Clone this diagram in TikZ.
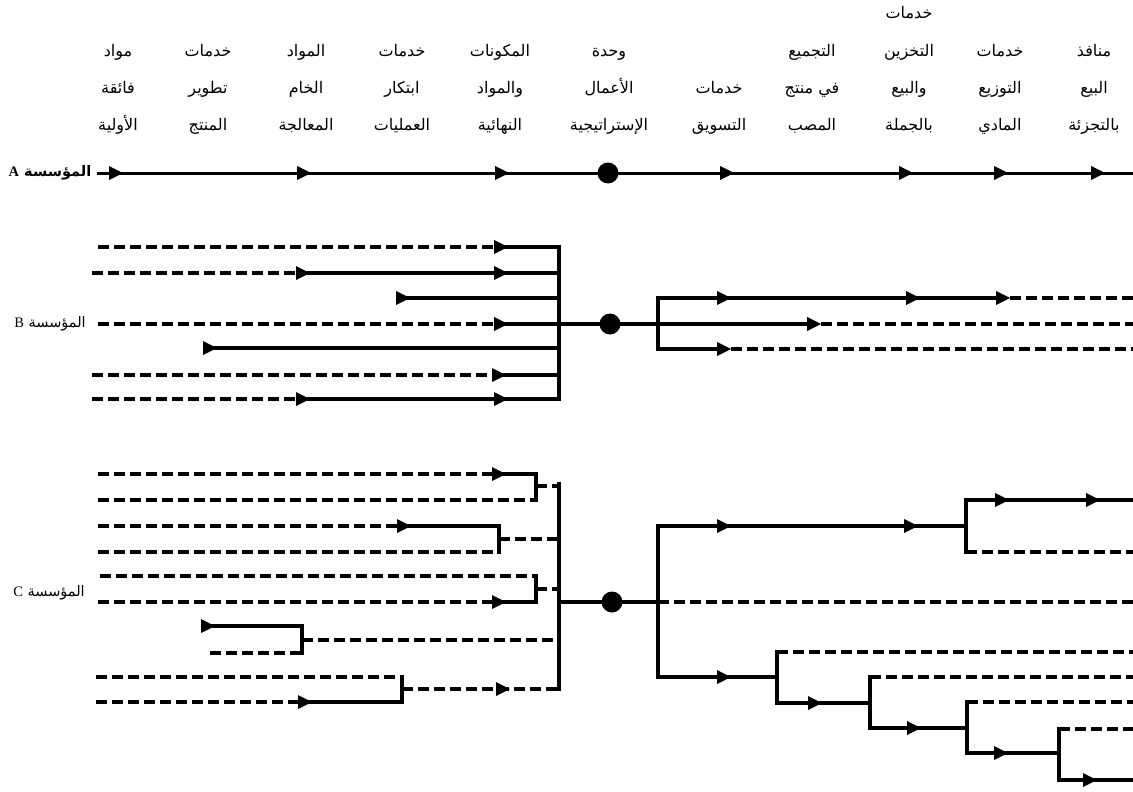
\documentclass[tikz,border=0pt]{standalone}
\usepackage{fontspec}
\TeXXeTstate=1
\newfontfamily\arabicfont[Script=Arabic]{DejaVu Sans}
\newfontfamily\latinserif{Liberation Serif}
\newcommand{\ar}[1]{{\arabicfont\beginR #1\endR}}
\begin{document}
\begin{tikzpicture}[x=1pt,y=-1pt,
  sol/.style={line width=3.8pt},
  solA/.style={line width=3pt},
  das/.style={line width=3.5pt, dash pattern=on 11pt off 5pt},
  vbar/.style={line width=3.8pt, line cap=rect},
  dot/.style={circle, fill=black, inner sep=0pt, minimum size=21pt},
  hd/.style={font=\arabicfont\fontsize{16}{16}\selectfont, inner sep=0pt, text height=12pt, text depth=5pt},
  firm/.style={font=\fontsize{14.5}{14.5}\selectfont, inner sep=0pt},
  arrtip/.pic={\fill (0,0) -- (-14,-7) -- (-14,7) -- cycle;}]
\useasboundingbox (0,0) rectangle (1133,792);

% ---------- column headings ----------
\foreach \x/\a/\b/\c [count=\i] in {
  118/مواد/فائقة/الأولية,
  208/خدمات/تطوير/المنتج,
  306/المواد/الخام/المعالجة,
  402/خدمات/ابتكار/العمليات,
  500/المكونات/والمواد/النهائية,
  609/وحدة/الأعمال/الإستراتيجية,
  812/التجميع/في منتج/المصب,
  909/التخزين/والبيع/بالجملة,
  1000/خدمات/التوزيع/المادي,
  1094/منافذ/البيع/بالتجزئة}{
  \node[hd] (h\i a) at (\x,53) {\ar{\a}};
  \node[hd] (h\i b) at (\x,90) {\ar{\b}};
  \node[hd] (h\i c) at (\x,127) {\ar{\c}};
}
\node[hd] (h8top) at (909,15) {\ar{خدمات}};
\node[hd] (hmk1) at (719,90) {\ar{خدمات}};
\node[hd] (hmk2) at (719,127) {\ar{التسويق}};

% ---------- firm labels ----------
\node[firm, font=\bfseries\fontsize{14.5}{14.5}\selectfont] (lA) at (50,173) {{\arabicfont\beginR المؤسسة {\latinserif\bfseries A}\endR}};
\node[firm] (lB) at (50,324) {{\arabicfont\beginR المؤسسة {\latinserif B}\endR}};
\node[firm] (lC) at (49,593) {{\arabicfont\beginR المؤسسة {\latinserif C}\endR}};

% ---------- firm A ----------
\coordinate (a0) at (97,173);
\coordinate (a1) at (1133,173);
\draw[solA] (a0) -- (a1);
\foreach \t in {123,311,509,734,913,1008,1105} \pic at (\t,173) {arrtip};
\node[dot] (sbuA) at (608,173) {};

% ---------- firm B, left ----------
\draw[das] (98,247) -- (494,247);  \draw[sol] (494,247) -- (559,247);
\draw[das] (92,273) -- (296,273);  \draw[sol] (296,273) -- (559,273);
\draw[sol] (396,298) -- (559,298);
\draw[das] (98,324) -- (494,324);
\draw[sol] (203,348) -- (559,348);
\draw[das] (92,375) -- (492,375);  \draw[sol] (492,375) -- (559,375);
\draw[das] (92,399) -- (296,399);  \draw[sol] (296,399) -- (559,399);
\draw[vbar] (559,247) -- (559,399);
\foreach \t/\y in {508/247,310/273,508/273,410/298,508/324,217/348,506/375,310/399,508/399}
  \pic at (\t,\y) {arrtip};

% ---------- firm B, right ----------
\draw[sol] (494,324) -- (807,324);
\draw[das] (821,324) -- (1133,324);
\node[dot] (sbuB) at (610,324) {};
\draw[vbar] (658,298) -- (658,349);
\draw[sol] (658,298) -- (996,298);  \draw[das] (1010,298) -- (1133,298);
\draw[sol] (658,349) -- (717,349);  \draw[das] (731,349) -- (1133,349);
\foreach \t/\y in {731/298,920/298,1010/298,821/324,731/349}
  \pic at (\t,\y) {arrtip};

% ---------- firm C, left ----------
\draw[das] (98,474) -- (492,474);  \draw[sol] (492,474) -- (536,474);
\draw[das] (98,500) -- (536,500);
\draw[vbar] (536,474) -- (536,500);
\draw[das] (536,486) -- (559,486);

\draw[das] (98,526) -- (397,526);  \draw[sol] (397,526) -- (499,526);
\draw[das] (98,552) -- (499,552);
\draw[vbar] (499,526) -- (499,552);
\draw[das] (499,539) -- (559,539);

\draw[das] (100,576) -- (536,576);
\draw[das] (98,602) -- (492,602);  \draw[sol] (492,602) -- (536,602);
\draw[vbar] (536,576) -- (536,602);
\draw[das] (536,589) -- (559,589);

\draw[sol] (201,626) -- (302,626);
\draw[das] (210,653) -- (302,653);
\draw[vbar] (302,626) -- (302,653);
\draw[das] (302,640) -- (559,640);

\draw[das] (96,677) -- (402,677);
\draw[das] (96,702) -- (298,702);  \draw[sol] (298,702) -- (402,702);
\draw[vbar] (402,677) -- (402,702);
\draw[das] (402,689) -- (559,689);

\draw[vbar] (559,484) -- (559,689);
\foreach \t/\y in {506/474,411/526,506/602,215/626,312/702,510/689}
  \pic at (\t,\y) {arrtip};

% ---------- firm C, right ----------
\draw[sol] (559,602) -- (658,602);
\node[dot] (sbuC) at (612,602) {};
\draw[vbar] (658,526) -- (658,677);
\draw[sol] (658,526) -- (966,526);
\draw[vbar] (966,500) -- (966,552);
\draw[sol] (966,500) -- (1133,500);
\draw[das] (966,552) -- (1133,552);
\draw[das] (658,602) -- (1133,602);
\draw[sol] (658,677) -- (777,677);
\draw[vbar] (777,652) -- (777,703);
\draw[das] (777,652) -- (1133,652);
\draw[sol] (777,703) -- (870,703);
\draw[vbar] (870,677) -- (870,728);
\draw[das] (870,677) -- (1133,677);
\draw[sol] (870,728) -- (967,728);
\draw[vbar] (967,702) -- (967,753);
\draw[das] (967,702) -- (1133,702);
\draw[sol] (967,753) -- (1059,753);
\draw[vbar] (1059,729) -- (1059,780);
\draw[das] (1059,729) -- (1133,729);
\draw[sol] (1059,780) -- (1133,780);
\foreach \t/\y in {731/526,918/526,1009/500,1100/500,731/677,822/703,921/728,1008/753,1097/780}
  \pic at (\t,\y) {arrtip};
\end{tikzpicture}
\end{document}
